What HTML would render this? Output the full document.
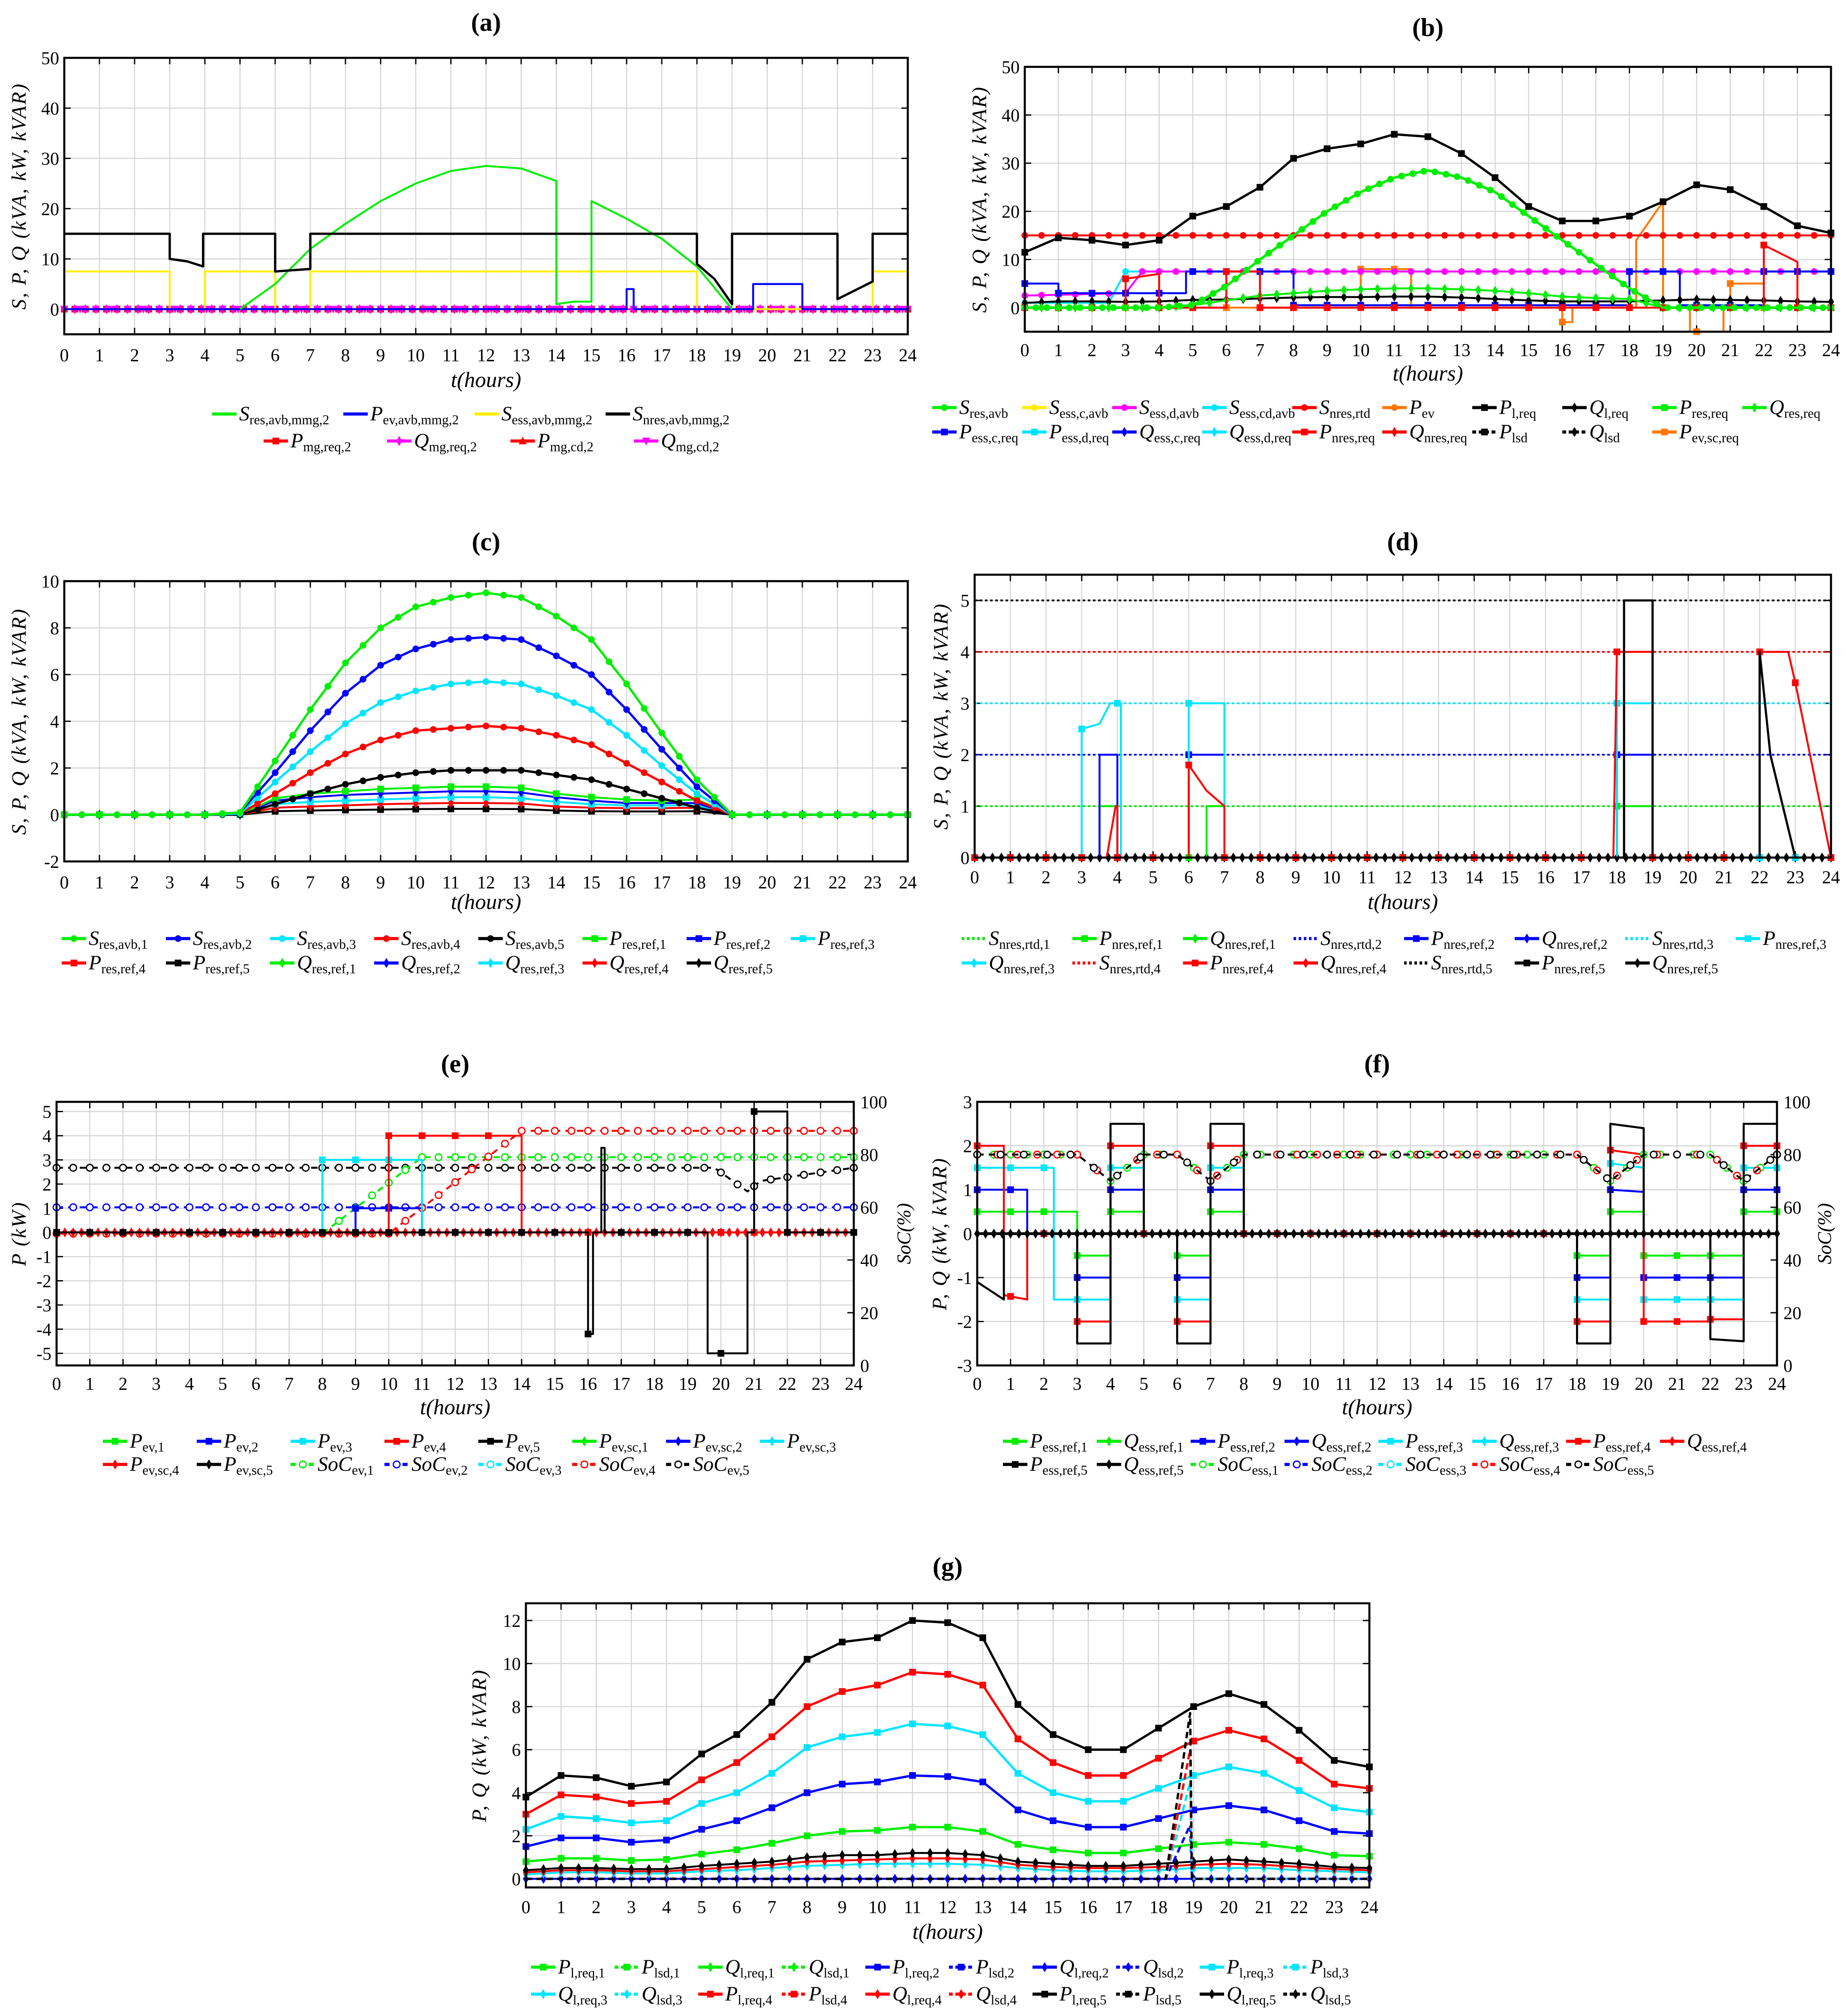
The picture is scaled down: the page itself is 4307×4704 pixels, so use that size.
<!DOCTYPE html>
<html><head><meta charset="utf-8"><style>
html,body{margin:0;padding:0;background:#fff;}
svg{display:block;}
text{font-family:"Liberation Serif","DejaVu Serif",serif;}
</style></head><body>
<svg id="fig" xmlns="http://www.w3.org/2000/svg" width="4307" height="4704" viewBox="0 0 1435.67 1568"><rect width="1435.67" height="1568" fill="#fff"/></svg>
<script>
// ---------- data ----------
const hours=[0,1,2,3,4,5,6,7,8,9,10,11,12,13,14,15,16,17,18,19,20,21,22,23,24];
// (a)
const aNresX=[0,3,3,3.5,3.95,3.95,6,6,7,7,18,18,18.5,19,19,22,22,23,23,24];
const aNresY=[15,15,10,9.5,8.5,15,15,7.5,8,15,15,9,6,1,15,15,2,5.5,15,15];
const aEssX=[0,3,3,4,4,6,6,7,7,18,18,23,23,24];
const aEssY=[7.5,7.5,0,0,7.5,7.5,0,0,7.5,7.5,0,0,7.5,7.5];
const aResX=[5,6,7,8,9,10,11,12,13,14,14,14.5,15,15,16,17,18,19];
const aResY=[0,5,12,17,21.5,25,27.5,28.5,28,25.5,1,1.5,1.5,21.5,18,14,8.5,0];
const aEvX=[0,16,16,16.2,16.2,19.6,19.6,21,21,24];
const aEvY=[0,0,4,4,0,0,5,5,0,0];
const aZero=[0,0,0,0,0,0,0,0,0,0,0,0,0,0,0,0,0,0,0,0,0,0,0,0,0];
// (b)
const bLoad=[11.5,14.5,14,13,14,19,21,25,31,33,34,36,35.5,32,27,21,18,18,19,22,25.5,24.5,21,17,15.5];
const bRtd=[15,15,15,15,15,15,15,15,15,15,15,15,15,15,15,15,15,15,15,15,15,15,15,15,15];
const bRes=[0,0,0,0,0,0.5,4.5,10,15,20,24,27,28.5,27,24,19,14,9,4,0,0,0,0,0,0];
const bResQ=[0,0,0,0,0,0.5,1.5,2.5,3,3.5,3.8,4,4,3.8,3.5,3,2.3,2,1.8,0,0,0,0,0,0];
const bLoadQ=[1,1.3,1.3,1.2,1.3,1.6,1.7,1.9,2.1,2.2,2.2,2.3,2.3,2.1,1.8,1.5,1.3,1.3,1.3,1.5,1.7,1.6,1.5,1.3,1.2];
const bEssDX=[0,3,3.5,24];
const bEssDY=[2.5,3,7.5,7.5];
const bEssCdX=[0,2.5,3,24];
const bEssCdY=[1,1,7.5,7.5];
const bEssCX=[0,1,1,4.8,4.8,6,6,8,8,18,18,19.5,19.5,22,22,24];
const bEssCY=[5,5,3,3,7.5,7.5,7.5,7.5,0.5,0.5,7.5,7.5,0.5,0.5,7.5,7.5];
const bNresX=[0,3,3,4,4,6,6,7,7,22,22,23,23,24];
const bNresY=[0,0,6,7,0,0,7.5,7.5,0,0,13,9.5,0,0];
const bEvX=[0,10,10,11.5,11.5,16,16,16.3,16.3,18.2,18.2,19,19,19.8,19.8,20.8,20.8,21,21,22,22,24];
const bEvY=[0,0,8,8,0,0,-3,-3,0,0,14,22,0,0,-5,-5,0,0,5,5,0,0];
// (c)
const cS1=[0,0,0,0,0,0.1,2.3,4.5,6.5,8,8.9,9.3,9.5,9.3,8.5,7.5,5.6,3.5,1.5,0,0,0,0,0,0];
const cS2=[0,0,0,0,0,0.1,1.8,3.6,5.2,6.4,7.1,7.5,7.6,7.5,6.8,6,4.5,2.8,1.2,0,0,0,0,0,0];
const cS3=[0,0,0,0,0,0.05,1.4,2.7,3.9,4.8,5.3,5.6,5.7,5.6,5.1,4.5,3.4,2.1,0.9,0,0,0,0,0,0];
const cS4=[0,0,0,0,0,0.05,0.9,1.8,2.6,3.2,3.6,3.7,3.8,3.7,3.4,3,2.2,1.4,0.6,0,0,0,0,0,0];
const cS5=[0,0,0,0,0,0,0.45,0.9,1.3,1.6,1.8,1.9,1.9,1.9,1.7,1.5,1.1,0.7,0.3,0,0,0,0,0,0];
const cP1=[0,0,0,0,0,0,0.7,0.9,1,1.1,1.15,1.2,1.2,1.15,0.9,0.75,0.65,0.6,0.65,0,0,0,0,0,0];
const cP2=[0,0,0,0,0,0,0.6,0.75,0.85,0.9,0.95,1,1,0.95,0.75,0.6,0.5,0.5,0.5,0,0,0,0,0,0];
const cP3=[0,0,0,0,0,0,0.45,0.55,0.6,0.65,0.7,0.75,0.75,0.7,0.55,0.45,0.4,0.4,0.4,0,0,0,0,0,0];
const cP4=[0,0,0,0,0,0,0.3,0.35,0.4,0.45,0.48,0.5,0.5,0.48,0.35,0.3,0.28,0.28,0.3,0,0,0,0,0,0];
const cP5=[0,0,0,0,0,0,0.15,0.18,0.2,0.22,0.24,0.25,0.25,0.24,0.18,0.15,0.14,0.14,0.15,0,0,0,0,0,0];
// (d)
const dRated=[1,2,3,4,5];
const dP3X=[0,3,3,3.5,3.8,3.8,4.1,4.1,6,6,7,7,18,18,19,19,24];
const dP3Y=[0,0,2.5,2.6,3,3,3,0,0,3,3,0,0,3,3,0,0];
const dP2X=[0,3.5,3.5,4,4,6,6,7,7,18,18,19,19,24];
const dP2Y=[0,0,2,2,0,0,2,2,0,0,2,2,0,0];
const dP1X=[0,3.5,3.5,4,4,6.5,6.5,7,7,18,18,19,19,24];
const dP1Y=[0,0,1,1,0,0,1,1,0,0,1,1,0,0];
const dP4X=[0,3.7,3.95,4,4,6,6,6.5,7,7,17.9,18,18,19,19,22,22,22.8,23,24];
const dP4Y=[0,0,1,1,0,0,1.8,1.3,1,0,0,4,4,4,0,0,4,4,3.4,0];
const dP5X=[0,18.2,18.2,19,19,22,22,22.3,23,24];
const dP5Y=[0,0,5,5,0,0,4,2,0,0];
// (e)
const eP4X=[0,10,10,14,14,24];
const eP4Y=[0,0,4,4,0,0];
const eP5X=[0,16,16,16.15,16.15,16.4,16.4,16.5,16.5,19.6,19.6,20.8,20.8,21,21,22,22,24];
const eP5Y=[0,0,-4.2,-4.2,0,0,3.5,3.5,0,0,-5,-5,0,0,5,5,0,0];
const eP3X=[0,8,8,11,11,24];
const eP3Y=[0,0,3,3,0,0];
const eP2X=[0,9,9,11,11,24];
const eP2Y=[0,0,1,1,0,0];
const eSoc4X=[0,10,14,24];
const eSoc4Y=[50,50,89,89];
const eSoc3X=[0,8,11,24];
const eSoc3Y=[50,50,79,79];
const eSoc1X=[0,8,11,24];
const eSoc1Y=[50,50,79,79];
const eSoc2X=[0,24];
const eSoc2Y=[60,60];
const eSoc5X=[0,19.8,20.8,21.2,24];
const eSoc5Y=[75,75,66,70,75];
// (f)
const fBlkX=[0,0.8,0.8,3,3,4,4,5,5,6,6,7,7,8,8,18,18,19,19,20,20,22,22,23,23,24];
const fBlkY=[-1.1,-1.5,0,0,-2.5,-2.5,2.5,2.5,0,0,-2.5,-2.5,2.5,2.5,0,0,-2.5,-2.5,2.5,2.4,0,0,-2.4,-2.45,2.5,2.5];
const fRedX=[0,0.8,0.8,1.5,1.5,3,3,4,4,5,5,6,6,7,7,8,8,18,18,19,19,20,20,22,22,23,23,24];
const fRedY=[2,2,-1.4,-1.5,0,0,-2,-2,2,2,0,0,-2,-2,2,2,0,0,-2,-2,1.9,1.8,-2,-2,-1.95,-1.95,2,2];
const fBluX=[0,1.5,1.5,3,3,4,4,5,5,6,6,7,7,8,8,18,18,19,19,20,20,22,22,23,23,24];
const fBluY=[1,1,0,0,-1,-1,1,1,0,0,-1,-1,1,1,0,0,-1,-1,1,0.95,-1,-1,-1,-1,1,1];
const fCyaX=[0,1,1,2.3,2.3,3,3,4,4,5,5,6,6,7,7,8,8,18,18,19,19,20,20,22,22,23,23,24];
const fCyaY=[1.5,1.5,1.5,1.5,-1.5,-1.5,-1.5,-1.5,1.5,1.5,0,0,-1.5,-1.5,1.5,1.5,0,0,-1.5,-1.5,1.6,1.5,-1.5,-1.5,-1.5,-1.5,1.5,1.5];
const fGrnX=[0,2.5,2.5,3,3,4,4,5,5,6,6,7,7,8,8,18,18,19,19,20,20,22,22,23,23,24];
const fGrnY=[0.5,0.5,0.5,0.5,-0.5,-0.5,0.5,0.5,0,0,-0.5,-0.5,0.5,0.5,0,0,-0.5,-0.5,0.5,0.5,-0.5,-0.5,-0.5,-0.5,0.5,0.5];
const fSocX=[0,3,4,5,6,7,8,18,19,20,22,23,24];
const fSocY=[80,80,70,80,80,70,80,80,70,80,80,70,80];
// (g)
const gP5=[3.8,4.8,4.7,4.3,4.5,5.8,6.7,8.2,10.2,11,11.2,12,11.9,11.2,8.1,6.7,6,6,7,8,8.6,8.1,6.9,5.5,5.2];
const gP4=[3,3.9,3.8,3.5,3.6,4.6,5.4,6.6,8,8.7,9,9.6,9.5,9,6.5,5.4,4.8,4.8,5.6,6.4,6.9,6.5,5.5,4.4,4.2];
const gP3=[2.3,2.9,2.8,2.6,2.7,3.5,4,4.9,6.1,6.6,6.8,7.2,7.1,6.7,4.9,4,3.6,3.6,4.2,4.8,5.2,4.9,4.1,3.3,3.1];
const gP2=[1.5,1.9,1.9,1.7,1.8,2.3,2.7,3.3,4,4.4,4.5,4.8,4.75,4.5,3.2,2.7,2.4,2.4,2.8,3.2,3.4,3.2,2.7,2.2,2.1];
const gP1=[0.8,0.95,0.95,0.85,0.9,1.15,1.35,1.65,2,2.2,2.25,2.4,2.4,2.2,1.6,1.35,1.2,1.2,1.4,1.6,1.7,1.6,1.4,1.1,1.05];
const gQ5=[0.4,0.5,0.5,0.45,0.45,0.6,0.7,0.8,1,1.1,1.1,1.2,1.2,1.1,0.8,0.7,0.6,0.6,0.7,0.8,0.9,0.8,0.7,0.55,0.5];
const gQ4=[0.3,0.4,0.4,0.35,0.35,0.45,0.55,0.65,0.8,0.85,0.9,0.95,0.95,0.9,0.65,0.55,0.5,0.5,0.55,0.65,0.7,0.65,0.55,0.45,0.4];
const gQ3=[0.2,0.3,0.3,0.25,0.25,0.35,0.4,0.5,0.6,0.65,0.7,0.7,0.7,0.65,0.5,0.4,0.35,0.35,0.4,0.5,0.5,0.5,0.4,0.35,0.3];
const gLsdX=[0,18.2,18.9,18.95,24];
const gLsd5Y=[0,0,7.7,0,0];
const gLsd4Y=[0,0,6,0,0];
const gLsd3Y=[0,0,4.5,0,0];
const gLsd2Y=[0,0,2.5,0,0];

// ---------- drawing ----------
const NS='http://www.w3.org/2000/svg';
const svg=document.getElementById('fig');
function mk(tag,attrs,parent){const e=document.createElementNS(NS,tag);for(const k in attrs)e.setAttribute(k,attrs[k]);(parent||svg).appendChild(e);return e;}

function panel(o){
  const g=mk('g',{});
  
  
  const sx=h=>o.x0+(h/24)*(o.x1-o.x0);
  const sy=v=>o.y1-(v-o.ymin)/(o.ymax-o.ymin)*(o.y1-o.y0);
  const sr=v=>o.y1-v/100*(o.y1-o.y0);
  mk('rect',{x:o.x0,y:o.y0,width:o.x1-o.x0,height:o.y1-o.y0,fill:'#fff'},g);
  for(let h=0;h<=24;h++){
    const gl=mk('line',{x1:sx(h),x2:sx(h),y1:o.y0,y2:o.y1,stroke:'#d4d4d4','stroke-width':0.8},g);
    
    
    mk('line',{x1:sx(h),x2:sx(h),y1:o.y1,y2:o.y1-5,stroke:'#000','stroke-width':1},g);
    mk('line',{x1:sx(h),x2:sx(h),y1:o.y0,y2:o.y0+5,stroke:'#000','stroke-width':1},g);
    const t=mk('text',{x:sx(h),y:o.tickY,'font-size':14,'text-anchor':'middle'},g);
    t.textContent=h;
    
    
  }
  o.yticks.forEach(v=>{
    mk('line',{x1:o.x0,x2:o.x1,y1:sy(v),y2:sy(v),stroke:'#d4d4d4','stroke-width':0.8},g);
    mk('line',{x1:o.x0,x2:o.x0+5,y1:sy(v),y2:sy(v),stroke:'#000','stroke-width':1},g);
    if(!o.right) mk('line',{x1:o.x1,x2:o.x1-5,y1:sy(v),y2:sy(v),stroke:'#000','stroke-width':1},g);
    const t=mk('text',{x:o.x0-4,y:sy(v)+5,'font-size':14,'text-anchor':'end'},g);
    t.textContent=v;
    
    
  });
  if(o.right){
    [0,20,40,60,80,100].forEach(v=>{
      mk('line',{x1:o.x1,x2:o.x1-5,y1:sr(v),y2:sr(v),stroke:'#000','stroke-width':1},g);
      const t=mk('text',{x:o.x1+5,y:sr(v)+5,'font-size':14,'text-anchor':'start'},g);
      t.textContent=v;
      
      
    });
    const rl=mk('text',{x:0,y:0,'font-size':15,'font-style':'italic','text-anchor':'middle',transform:`translate(${o.rlabX},${(o.y0+o.y1)/2}) rotate(-90)`},g);
    rl.textContent='SoC(%)';
    
    
  }
  const tt=mk('text',{x:(o.x0+o.x1)/2,y:o.titleY,'font-size':20,'font-weight':'bold','text-anchor':'middle'},g);
  tt.textContent='('+o.id+')';
  
  
  const xl=mk('text',{x:(o.x0+o.x1)/2,y:o.xlabY,'font-size':17,'font-style':'italic','text-anchor':'middle'},g);
  xl.textContent='t(hours)';
  
  
  const yl=mk('text',{x:0,y:0,'font-size':16,'font-style':'italic','text-anchor':'middle','letter-spacing':1,transform:`translate(${o.ylabX},${(o.y0+o.y1)/2}) rotate(-90)`},g);
  yl.textContent=o.ylabel;
  
  
  const plot=mk('g',{},g);
  
  
  const frame=()=>{const f=mk('rect',{x:o.x0,y:o.y0,width:o.x1-o.x0,height:o.y1-o.y0,fill:'none',stroke:'#000','stroke-width':1.6},g);
    
    };
  return {sx,sy,sr,plot,frame,o};
}

function marker(parent,x,y,type,color){
  const r=2.6;let m;
  if(type==='o') m=mk('circle',{cx:x,cy:y,r:r,fill:color},parent);
  else if(type==='oo') m=mk('circle',{cx:x,cy:y,r:r,fill:'#fff',stroke:color,'stroke-width':1},parent);
  else if(type==='s') m=mk('rect',{x:x-r,y:y-r,width:2*r,height:2*r,fill:color},parent);
  else if(type==='d') m=mk('polygon',{points:`${x},${y-r*1.5} ${x+r*0.9},${y} ${x},${y+r*1.5} ${x-r*0.9},${y}`,fill:color},parent);
  else if(type==='^') m=mk('polygon',{points:`${x},${y-r*1.3} ${x+r*1.2},${y+r} ${x-r*1.2},${y+r}`,fill:color},parent);
  else if(type==='v') m=mk('polygon',{points:`${x},${y+r*1.3} ${x+r*1.2},${y-r} ${x-r*1.2},${y-r}`,fill:color},parent);
  else return;
  
  
}

function series(P,xs,ys,color,opt,name){
  opt=opt||{};
  const sY=opt.right?P.sr:P.sy;
  const g=mk('g',{},P.plot);
  
  
  const pts=xs.map((x,i)=>P.sx(x).toFixed(2)+','+sY(ys[i]).toFixed(2)).join(' ');
  const pl=mk('polyline',{points:pts,fill:'none',stroke:color,'stroke-width':opt.w||1.5,'stroke-dasharray':opt.dash||'none','stroke-linejoin':'round'},g);
  
  
  if(opt.m){
    const every=opt.every||0.5;
    for(let i=0;i<xs.length-1;i++){
      const xa=xs[i],xb=xs[i+1];
      if(xb===xa){continue;}
      let start=Math.ceil(xa/every)*every;
      for(let h=start;h<xb;h+=every){
        const v=ys[i]+(ys[i+1]-ys[i])*(h-xa)/(xb-xa);
        marker(g,P.sx(h),sY(v),opt.m,color);
      }
    }
    marker(g,P.sx(xs[xs.length-1]),sY(ys[ys.length-1]),opt.m,color);
  }
}

function legend(rows,x0,step,ys){
  const lg=mk('g',{});
  
  
  rows.forEach((row,ri)=>{
    row.forEach((e,i)=>{
      const x=x0+i*step,y=ys[ri];
      const eg=mk('g',{},lg);
      
      
      mk('line',{x1:x,x2:x+19,y1:y-5,y2:y-5,stroke:e[2],'stroke-width':2.4,'stroke-dasharray':e[4]||'none'},eg);
      if(e[3]) marker(eg,x+9.5,y-5,e[3],e[2]);
      const t=mk('text',{x:x+21,y:y,'font-size':16},eg);
      const a=mk('tspan',{'font-style':'italic'},t);a.textContent=e[0];
      const b=mk('tspan',{'font-size':10.5,dy:3},t);b.textContent=e[1];
    });
  });
}

const G='#00ee00',B='#0000ff',C='#00e5ff',R='#ff0000',K='#000000',M='#ff00ff',Y='#ffee00',O='#ff7700';

// ---- (a)
(function(){
  const P=panel({id:'a',x0:50,x1:706,y0:45,y1:260,ymin:-5,ymax:50,yticks:[0,10,20,30,40,50],tickY:281,titleY:24,xlabY:301,ylabX:20,ylabel:'S, P, Q (kVA, kW, kVAR)'});
  series(P,hours,aZero,R,{m:'s',every:0.3},'p-mg-req-2');
  series(P,hours,aZero,M,{m:'d',every:0.3},'q-mg-req-2');
  series(P,hours,aZero,M,{m:'v',every:0.45},'q-mg-cd-2');
  series(P,aEssX,aEssY,Y,{},'s-ess-avb');
  series(P,aEvX,aEvY,B,{},'p-ev-avb');
  series(P,aResX,aResY,G,{},'s-res-avb');
  series(P,aNresX,aNresY,K,{w:1.8},'s-nres-avb');
  P.frame();
  legend([[['S','res,avb,mmg,2',G],['P','ev,avb,mmg,2',B],['S','ess,avb,mmg,2',Y],['S','nres,avb,mmg,2',K]]],165,102,[327]);
  legend([[['P','mg,req,2',R,'s'],['Q','mg,req,2',M,'d'],['P','mg,cd,2',R,'^'],['Q','mg,cd,2',M,'v']]],205,96,[348]);
})();

// ---- (b)
(function(){
  const P=panel({id:'b',x0:797,x1:1424,y0:52,y1:258,ymin:-5,ymax:50,yticks:[0,10,20,30,40,50],tickY:277,titleY:28,xlabY:296,ylabX:767,ylabel:'S, P, Q (kVA, kW, kVAR)'});
  series(P,bEvX,bEvY,O,{m:'s',every:1},'p-ev');
  series(P,bEssCdX,bEssCdY,C,{m:'o',every:1},'s-ess-cd-avb');
  series(P,bEssDX,bEssDY,M,{m:'o',every:0.5},'s-ess-d-avb');
  series(P,bEssCX,bEssCY,B,{m:'s',every:1},'p-ess-c-req');
  series(P,hours,bLoadQ,K,{m:'d',every:0.5},'q-l-req');
  series(P,hours,bResQ,G,{m:'d',every:0.5},'q-res-req');
  series(P,hours,bRtd,R,{m:'o',every:0.5},'s-nres-rtd');
  series(P,bNresX,bNresY,R,{m:'s',every:1},'p-nres-req');
  series(P,hours,bRes,G,{m:'o',every:0.33,w:2},'s-res-avb');
  series(P,hours,bLoad,K,{m:'s',every:1,w:1.8},'p-l-req');
  P.frame();
  legend([[['S','res,avb',G,'o'],['S','ess,c,avb',Y,'o'],['S','ess,d,avb',M,'o'],['S','ess,cd,avb',C,'o'],['S','nres,rtd',R,'o'],['P','ev',O,'o'],['P','l,req',K,'s'],['Q','l,req',K,'d'],['P','res,req',G,'s'],['Q','res,req',G,'d']]],725,70,[322]);
  legend([[['P','ess,c,req',B,'s'],['P','ess,d,req',C,'s'],['Q','ess,c,req',B,'d'],['Q','ess,d,req',C,'d'],['P','nres,req',R,'s'],['Q','nres,req',R,'d'],['P','lsd',K,'s','3,2'],['Q','lsd',K,'d','3,2'],['P','ev,sc,req',O,'s']]],725,70,[341]);
})();

// ---- (c)
(function(){
  const P=panel({id:'c',x0:50,x1:706,y0:452,y1:670,ymin:-2,ymax:10,yticks:[-2,0,2,4,6,8,10],tickY:691,titleY:428,xlabY:707,ylabX:20,ylabel:'S, P, Q (kVA, kW, kVAR)'});
  [[cP5,K,'s'],[cP4,R,'d'],[cP3,C,'s'],[cP2,B,'d'],[cP1,G,'s']].forEach(s=>series(P,hours,s[0],s[1],{m:s[2],every:1},'p-res-ref'));
  [[cS5,K],[cS4,R],[cS3,C],[cS2,B],[cS1,G]].forEach(s=>series(P,hours,s[0],s[1],{m:'o',every:0.5,w:1.8},'s-res-avb'));
  P.frame();
  legend([[['S','res,avb,1',G,'o'],['S','res,avb,2',B,'o'],['S','res,avb,3',C,'o'],['S','res,avb,4',R,'o'],['S','res,avb,5',K,'o'],['P','res,ref,1',G,'s'],['P','res,ref,2',B,'s'],['P','res,ref,3',C,'s']]],48,81,[735]);
  legend([[['P','res,ref,4',R,'s'],['P','res,ref,5',K,'s'],['Q','res,ref,1',G,'d'],['Q','res,ref,2',B,'d'],['Q','res,ref,3',C,'d'],['Q','res,ref,4',R,'d'],['Q','res,ref,5',K,'d']]],48,81,[754]);
})();

// ---- (d)
(function(){
  const P=panel({id:'d',x0:758,x1:1424,y0:447,y1:667,ymin:0,ymax:5.5,yticks:[0,1,2,3,4,5],tickY:687,titleY:428,xlabY:707,ylabX:737,ylabel:'S, P, Q (kVA, kW, kVAR)'});
  const cols=[G,B,C,R,K];
  dRated.forEach((v,i)=>series(P,[0,24],[v,v],cols[i],{dash:'2,2',w:1.4},'s-nres-rtd'));
  series(P,hours,aZero,K,{m:'d',every:0.25},'q-nres-ref');
  series(P,dP1X,dP1Y,G,{m:'s',every:1},'p-nres-ref-1');
  series(P,dP2X,dP2Y,B,{m:'s',every:1},'p-nres-ref-2');
  series(P,dP3X,dP3Y,C,{m:'s',every:1},'p-nres-ref-3');
  series(P,dP4X,dP4Y,R,{m:'s',every:1},'p-nres-ref-4');
  series(P,dP5X,dP5Y,K,{w:1.7},'p-nres-ref-5');
  P.frame();
  legend([[['S','nres,rtd,1',G,null,'2,2'],['P','nres,ref,1',G,'s'],['Q','nres,ref,1',G,'d'],['S','nres,rtd,2',B,null,'2,2'],['P','nres,ref,2',B,'s'],['Q','nres,ref,2',B,'d'],['S','nres,rtd,3',C,null,'2,2'],['P','nres,ref,3',C,'s']]],748,86,[735]);
  legend([[['Q','nres,ref,3',C,'d'],['S','nres,rtd,4',R,null,'2,2'],['P','nres,ref,4',R,'s'],['Q','nres,ref,4',R,'d'],['S','nres,rtd,5',K,null,'2,2'],['P','nres,ref,5',K,'s'],['Q','nres,ref,5',K,'d']]],748,86,[754]);
})();

// ---- (e)
(function(){
  const P=panel({id:'e',x0:44,x1:664,y0:857,y1:1062,ymin:-5.5,ymax:5.4,yticks:[-5,-4,-3,-2,-1,0,1,2,3,4,5],tickY:1081,titleY:834,xlabY:1100,ylabX:20,ylabel:'P (kW)',right:true,rlabX:708});
  series(P,eSoc2X,eSoc2Y,B,{right:true,dash:'5,4',m:'oo',every:0.5},'soc-ev-2');
  series(P,eSoc5X,eSoc5Y,K,{right:true,dash:'5,4',m:'oo',every:0.5},'soc-ev-5');
  series(P,eSoc3X,eSoc3Y,C,{right:true,dash:'5,4',m:'oo',every:0.5},'soc-ev-3');
  series(P,eSoc1X,eSoc1Y,G,{right:true,dash:'5,4',m:'oo',every:0.5},'soc-ev-1');
  series(P,eSoc4X,eSoc4Y,R,{right:true,dash:'5,4',m:'oo',every:0.5},'soc-ev-4');
  series(P,hours,aZero,R,{m:'d',every:0.25},'p-ev-sc');
  series(P,eP2X,eP2Y,B,{m:'s',every:1},'p-ev-2');
  series(P,eP3X,eP3Y,C,{m:'s',every:1},'p-ev-3');
  series(P,eP4X,eP4Y,R,{m:'s',every:1},'p-ev-4');
  series(P,eP5X,eP5Y,K,{m:'s',every:1},'p-ev-5');
  P.frame();
  legend([[['P','ev,1',G,'s'],['P','ev,2',B,'s'],['P','ev,3',C,'s'],['P','ev,4',R,'s'],['P','ev,5',K,'s'],['P','ev,sc,1',G,'d'],['P','ev,sc,2',B,'d'],['P','ev,sc,3',C,'d']]],80,73,[1126]);
  legend([[['P','ev,sc,4',R,'d'],['P','ev,sc,5',K,'d'],['SoC','ev,1',G,'oo','4,3'],['SoC','ev,2',B,'oo','4,3'],['SoC','ev,3',C,'oo','4,3'],['SoC','ev,4',R,'oo','4,3'],['SoC','ev,5',K,'oo','4,3']]],80,73,[1144]);
})();

// ---- (f)
(function(){
  const P=panel({id:'f',x0:760,x1:1382,y0:857,y1:1062,ymin:-3,ymax:3,yticks:[-3,-2,-1,0,1,2,3],tickY:1081,titleY:834,xlabY:1100,ylabX:736,ylabel:'P, Q (kW, kVAR)',right:true,rlabX:1424});
  series(P,fGrnX,fGrnY,G,{m:'s',every:1},'p-ess-ref-1');
  series(P,fCyaX,fCyaY,C,{m:'s',every:1},'p-ess-ref-3');
  series(P,fBluX,fBluY,B,{m:'s',every:1},'p-ess-ref-2');
  series(P,fRedX,fRedY,R,{m:'s',every:1},'p-ess-ref-4');
  series(P,hours,aZero,K,{m:'d',every:0.25,w:2.2},'q-ess-ref');
  series(P,fSocX,fSocY,G,{right:true,dash:'5,4',m:'oo',every:0.5},'soc-ess-1');
  series(P,fSocX,fSocY,R,{right:true,dash:'5,4',m:'oo',every:0.6},'soc-ess-4');
  series(P,fSocX,fSocY,K,{right:true,dash:'5,4',m:'oo',every:0.7},'soc-ess-5');
  series(P,fBlkX,fBlkY,K,{w:1.6},'p-ess-ref-5');
  P.frame();
  legend([[['P','ess,ref,1',G,'s'],['Q','ess,ref,1',G,'d'],['P','ess,ref,2',B,'s'],['Q','ess,ref,2',B,'d'],['P','ess,ref,3',C,'s'],['Q','ess,ref,3',C,'d'],['P','ess,ref,4',R,'s'],['Q','ess,ref,4',R,'d']]],780,73,[1126]);
  legend([[['P','ess,ref,5',K,'s'],['Q','ess,ref,5',K,'d'],['SoC','ess,1',G,'oo','4,3'],['SoC','ess,2',B,'oo','4,3'],['SoC','ess,3',C,'oo','4,3'],['SoC','ess,4',R,'oo','4,3'],['SoC','ess,5',K,'oo','4,3']]],780,73,[1144]);
})();

// ---- (g)
(function(){
  const P=panel({id:'g',x0:409,x1:1065,y0:1247,y1:1468,ymin:-0.4,ymax:12.8,yticks:[0,2,4,6,8,10,12],tickY:1488,titleY:1225,xlabY:1508,ylabX:378,ylabel:'P, Q (kW, kVAR)'});
  series(P,hours,aZero,B,{m:'d',every:0.5},'q-lsd');
  [[gQ3,C],[gQ4,R],[gQ5,K]].forEach(s=>series(P,hours,s[0],s[1],{m:'d',every:0.5},'q-l-req'));
  [[gP1,G],[gP2,B],[gP3,C],[gP4,R],[gP5,K]].forEach(s=>series(P,hours,s[0],s[1],{m:'s',every:1,w:1.8},'p-l-req'));
  [[gLsd2Y,B],[gLsd3Y,C],[gLsd4Y,R],[gLsd5Y,K]].forEach(s=>series(P,gLsdX,s[0],s[1],{dash:'5,3',w:1.8},'p-lsd'));
  P.frame();
  legend([[['P','l,req,1',G,'s'],['P','lsd,1',G,'s','3,2'],['Q','l,req,1',G,'d'],['Q','lsd,1',G,'d','3,2'],['P','l,req,2',B,'s'],['P','lsd,2',B,'s','3,2'],['Q','l,req,2',B,'d'],['Q','lsd,2',B,'d','3,2'],['P','l,req,3',C,'s'],['P','lsd,3',C,'s','3,2']]],413,65,[1535]);
  legend([[['Q','l,req,3',C,'d'],['Q','lsd,3',C,'d','3,2'],['P','l,req,4',R,'s'],['P','lsd,4',R,'s','3,2'],['Q','l,req,4',R,'d'],['Q','lsd,4',R,'d','3,2'],['P','l,req,5',K,'s'],['P','lsd,5',K,'s','3,2'],['Q','l,req,5',K,'d'],['Q','lsd,5',K,'d','3,2']]],413,65,[1556]);
})();
</script>
</body></html>
